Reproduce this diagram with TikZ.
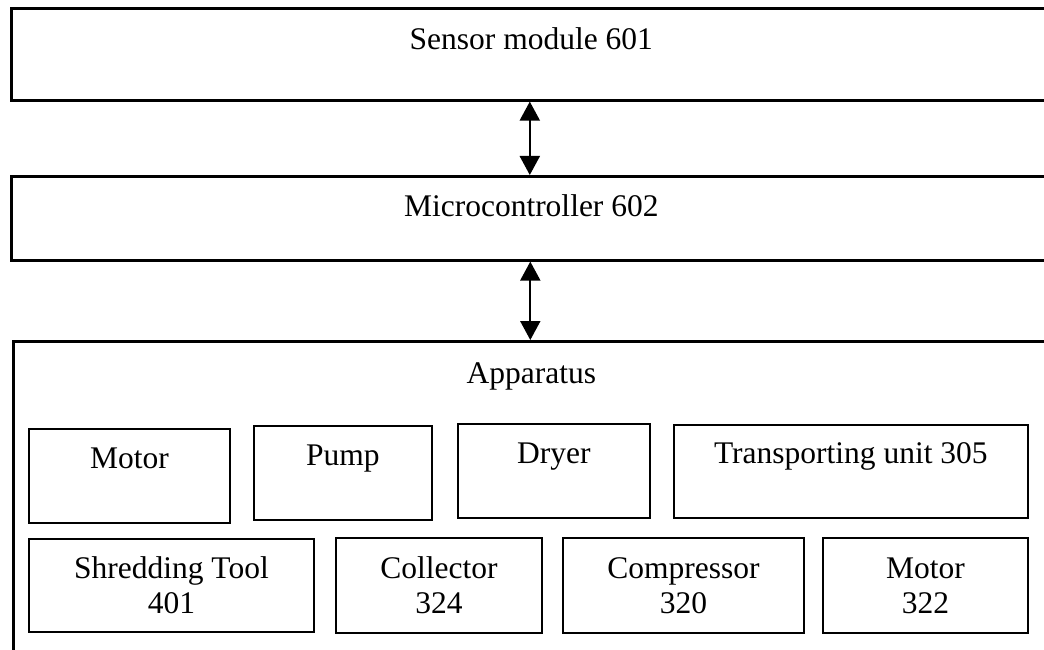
\documentclass[tikz,border=0pt]{standalone}
\usepackage{fontspec}
\setmainfont{Liberation Serif}
\usetikzlibrary{arrows.meta}
\begin{document}
\begin{tikzpicture}[x=1pt,y=-1pt,
  base/.style={draw, rectangle, inner sep=0pt, anchor=north west,
    font=\fontsize{31.5}{35}\selectfont},
  outer/.style={base, line width=2.6pt},
  innerbox/.style={base, line width=1.8pt},
  toprow/.style={innerbox, text height=40pt, text depth=54pt},
  botrow/.style={innerbox, align=center},
  arr/.style={line width=2pt,
    {Triangle[length=19pt,width=20pt]}-{Triangle[length=19pt,width=20pt]}}]
\clip (0,0) rectangle (1044,650);
% outer blocks
\node[outer, minimum width=1040pt, text height=41pt, text depth=51pt] (sensor) at (10,7) {Sensor module 601};
\node[outer, minimum width=1040pt, text height=40pt, text depth=44pt] (micro) at (10,175) {Microcontroller 602};
\node[outer, minimum width=1036pt, text height=42pt, text depth=318pt] (app) at (12,340) {Apparatus};
% top row
\node[toprow, minimum width=201pt] (motora) at (28,428) {Motor};
\node[toprow, minimum width=178pt] (pump) at (253,425) {Pump};
\node[toprow, minimum width=192pt] (dryer) at (457,423) {Dryer};
\node[toprow, minimum width=354pt, text height=39pt] (trans) at (673,424) {Transporting unit 305};
% bottom row
\node[botrow, minimum width=285pt, minimum height=93pt] (shred) at (28,538) {Shredding Tool\\401};
\node[botrow, minimum width=206pt, minimum height=95pt] (coll) at (335,537) {Collector\\324};
\node[botrow, minimum width=241pt, minimum height=95pt] (comp) at (562,537) {Compressor\\320};
\node[botrow, minimum width=205pt, minimum height=95pt] (motorb) at (822,537) {Motor\\322};
% connectors
\draw[arr] ([xshift=-1.5pt]sensor.south) -- ([xshift=-1.5pt]micro.north);
\draw[arr] ([xshift=-1pt]micro.south) -- ([xshift=-1pt]app.north);
\end{tikzpicture}
\end{document}
